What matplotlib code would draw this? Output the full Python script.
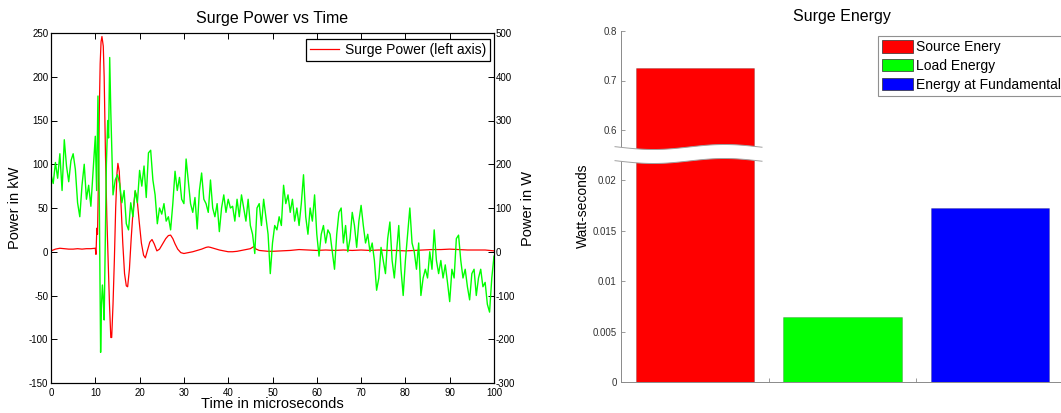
import numpy as np
import matplotlib
matplotlib.use("Agg")
import matplotlib.pyplot as plt
from matplotlib.patches import Polygon, Patch
from matplotlib.lines import Line2D

plt.rcParams['font.family'] = ['Liberation Sans', 'DejaVu Sans']
plt.rcParams['axes.unicode_minus'] = False

W, H = 1061, 413

# ---- left chart data: surge power (kW, left axis) and load power (W, right axis)
red_t = [0, 1, 2, 3, 4, 5, 6, 7, 8, 9, 10, 10.15, 10.35, 10.5, 10.7, 10.9, 11.1, 11.3, 11.5,
         11.8, 12.0, 12.3, 12.6, 12.9, 13.2, 13.5, 13.7, 14.0, 14.3, 14.6, 14.9, 15.1, 15.4,
         15.8, 16.2, 16.6, 17.0, 17.3, 17.7, 18.1, 18.5, 19.0, 19.4, 19.9, 20.4, 20.9, 21.3,
         21.8, 22.3, 22.8, 23.3, 23.9, 24.5, 25.2, 25.9, 26.5, 27.0, 27.5, 28.0, 28.6, 29.3,
         30, 31, 32, 33, 34, 35, 35.5, 36, 37, 38, 39, 40, 41, 42, 43, 44, 45, 45.8, 46.3,
         47, 48, 49, 50, 52, 54, 56, 58, 60, 62, 64, 66, 68, 70, 72, 74, 76, 78, 80, 82,
         84, 86, 88, 90, 92, 94, 96, 98, 100]
red_kw = [1, 3, 4, 3.5, 3, 3, 3.5, 3, 3.5, 3.5, 4, -3, 27, 20, 80, 160, 215, 240, 246,
          235, 200, 110, 40, -10, -60, -98, -98, -60, -10, 50, 90, 101, 92,
          55, 10, -25, -39, -40, -20, 15, 45, 69, 62, 35, 10, -4, -7,
          2, 11, 14, 9, 1, 3, 9, 15, 18.5, 19, 15, 9, 3, -1,
          -2, -1, 0, 1.5, 3, 5, 5.5, 5, 3.5, 2, 1, 0, 0, 0.5, 1.5, 2.5, 3.5, 6, 3,
          1.5, 1, 0.5, 0.5, 1, 1.5, 2.5, 2, 1.5, 2, 1.5, 2, 1.5, 2, 1.5, 2, 1.5, 1.5, 1, 1.5,
          2, 2.5, 2.5, 3, 2.5, 2, 2, 2, 1]

green_t = (list(np.arange(0, 10.5, 0.5))
           + [10.3, 10.6, 10.9, 11.2, 11.4, 11.6, 11.8, 12.0, 12.2, 12.5, 12.8, 13.0, 13.25, 13.5, 13.75]
           + list(np.arange(14, 100.5, 0.5)))
green_w = [176, 156, 204, 168, 224, 140, 256, 196, 160, 208,
           224, 188, 112, 80, 152, 200, 120, 152, 104, 184, 264,
           140, 356, 120, -230, -120, -76, -110, -156, -20, 200, 300, 260, 444, 320, 220,
           130, 164, 176, 156, 112, 140, 64, 50, 112, 80,
           140, 112, 186, 150, 196, 124, 226, 232, 164, 130,
           64, 100, 86, 110, 70, 80, 50, 110, 184, 140,
           170, 120, 110, 212, 160, 110, 90, 124, 52, 140,
           180, 120, 110, 90, 164, 100, 80, 110, 46, 100,
           130, 90, 120, 100, 104, 70, 120, 80, 130, 100,
           70, 120, 60, 40, -4, 100, 110, 60, 120, 80,
           40, -50, 20, 60, 50, 80, 60, 152, 110, 130,
           90, 120, 70, 100, 60, 110, 176, 80, 40, 100,
           70, 130, 40, -10, 40, 60, 20, 50, 40, 0,
           -40, 40, 90, 100, 20, 60, 0, 30, 90, 60,
           10, 70, 106, 60, 20, 40, 0, 20, -20, -88,
           -60, 10, -20, -50, 30, 68, -20, -60, 0, 60,
           -40, -100, -20, 40, 100, 20, 0, -40, 20, -100,
           -60, -40, -60, 0, -40, 50, -20, -50, -20, -60,
           -30, -70, -114, -40, -60, 30, 38, -20, -60, -40,
           -80, -110, -50, -40, -100, -60, -40, -80, -70, -120,
           -138, -60, -10]

# ---- right chart data: surge energy
energy_names = ['Source Enery', 'Load Energy', 'Energy at Fundamental']
energy_ws = [0.725, 0.00645, 0.0173]
energy_colors = ['#ff0000', '#00ff00', '#0000ff']


def rect(l, t, r, b):
    return [l / W, 1 - b / H, (r - l) / W, (b - t) / H]


fig = plt.figure(figsize=(W / 100, H / 100), dpi=100)

# ================= left chart =================
ax = fig.add_axes(rect(51, 33, 494, 383))
ax2 = ax.twinx()
ax.set_zorder(1)
ax2.set_zorder(2)
ax.patch.set_visible(False)

red_line, = ax.plot(red_t, red_kw, color='#ff0000', lw=0.9)
ax2.plot(green_t, green_w, color='#00ff00', lw=1.0)

ax.set_xlim(0, 100)
ax.set_ylim(-150, 250)
ax2.set_ylim(-300, 500)
ax.set_xticks(np.arange(0, 101, 10))
ax.set_yticks(np.arange(-150, 251, 50))
ax2.set_yticks(np.arange(-300, 501, 100))
ax.tick_params(direction='in', length=4, width=0.7, labelsize=7, top=True, right=False, pad=2)
ax.tick_params(axis='x', pad=3.5)
ax2.tick_params(direction='in', length=4, width=0.7, labelsize=7, pad=1)
for a in (ax, ax2):
    for s in a.spines.values():
        s.set_linewidth(0.8)
        s.set_color('black')

ax.set_ylabel('Power in kW', fontsize=10.5)
ax.yaxis.set_label_coords(-0.066, 0.5)
ax2.set_ylabel('Power in W', fontsize=10.5)
ax2.yaxis.set_label_coords(1.061, 0.5)
ax.set_xlabel('Time in microseconds', fontsize=10.5)
ax.xaxis.set_label_coords(0.5, -0.04)
fig.text(272 / W, 1 - 18 / H, 'Surge Power vs Time', fontsize=11.5, ha='center', va='center')

leg = ax2.legend([red_line], ['Surge Power (left axis)'], loc='upper right',
                 bbox_to_anchor=(1 - 4 / 443, 1 - 6 / 350), borderaxespad=0,
                 fontsize=10, fancybox=False, framealpha=1, edgecolor='black',
                 handlelength=2.1, handletextpad=0.4, borderpad=0.3)
leg.get_frame().set_linewidth(0.9)

# ================= right chart (broken axis) =================
x_pos = [1, 2, 3]
ax_top = fig.add_axes(rect(621, 31, 1064, 154))
ax_bot = fig.add_axes(rect(621, 154, 1064, 382))
for a in (ax_top, ax_bot):
    a.bar(x_pos, energy_ws, width=0.8, color=energy_colors, edgecolor='#00000040', linewidth=0.5)
    a.set_xlim(0.5, 3.5)
    for side in ('top', 'right'):
        a.spines[side].set_visible(False)
    a.spines['left'].set_color('#8a8a8a')
    a.spines['left'].set_linewidth(0.7)
    a.tick_params(direction='in', length=3, width=0.6, colors='#8a8a8a', labelsize=7,
                  labelcolor='#333333', pad=3)

ax_top.set_ylim(0.8 - 123 / 495, 0.8)
ax_top.set_yticks([0.6, 0.7, 0.8])
ax_top.set_yticklabels(['0.6', '0.7', '0.8'])
ax_top.spines['bottom'].set_visible(False)
ax_top.set_xticks([])

ax_bot.set_ylim(0, 228 / 50.4 * 0.005)
ax_bot.set_yticks([0, 0.005, 0.01, 0.015, 0.02])
ax_bot.set_yticklabels(['0', '0.005', '0.01', '0.015', '0.02'])
ax_bot.spines['bottom'].set_color('#8a8a8a')
ax_bot.spines['bottom'].set_linewidth(0.7)
ax_bot.set_xticks([1.5, 2.5])
ax_bot.set_xticklabels([])

# wavy white break band
xs = np.linspace(615, 762, 80)
wave = 2.5 * np.sin(2 * np.pi * (xs - 618) / 142)
y_up = 147 + wave
y_lo = 161 + wave
poly_pts = np.column_stack([np.r_[xs, xs[::-1]] / W, 1 - np.r_[y_up, y_lo[::-1]] / H])
fig.add_artist(Polygon(poly_pts, closed=True, facecolor='white', edgecolor='none',
                       transform=fig.transFigure, zorder=5))
for yy in (y_up, y_lo):
    fig.add_artist(Line2D(xs / W, 1 - yy / H, color='#a0a0a0', lw=0.7,
                          transform=fig.transFigure, zorder=6))

fig.text(842 / W, 1 - 16 / H, 'Surge Energy', fontsize=11.5, ha='center', va='center')
fig.text(583 / W, 1 - 206 / H, 'Watt-seconds', fontsize=10, rotation=90,
         ha='center', va='center')

handles = [Patch(facecolor=c, edgecolor='#303030', linewidth=0.5) for c in energy_colors]
leg2 = fig.legend(handles, energy_names, loc='upper left',
                  bbox_to_anchor=(878 / W, 1 - 36 / H), borderaxespad=0,
                  fontsize=10, fancybox=False, framealpha=1, edgecolor='#909090',
                  handlelength=2.2, handleheight=1.0, handletextpad=0.25,
                  labelspacing=0.35, borderpad=0.3)
leg2.get_frame().set_linewidth(0.8)

fig.savefig('out.png', dpi=100)
